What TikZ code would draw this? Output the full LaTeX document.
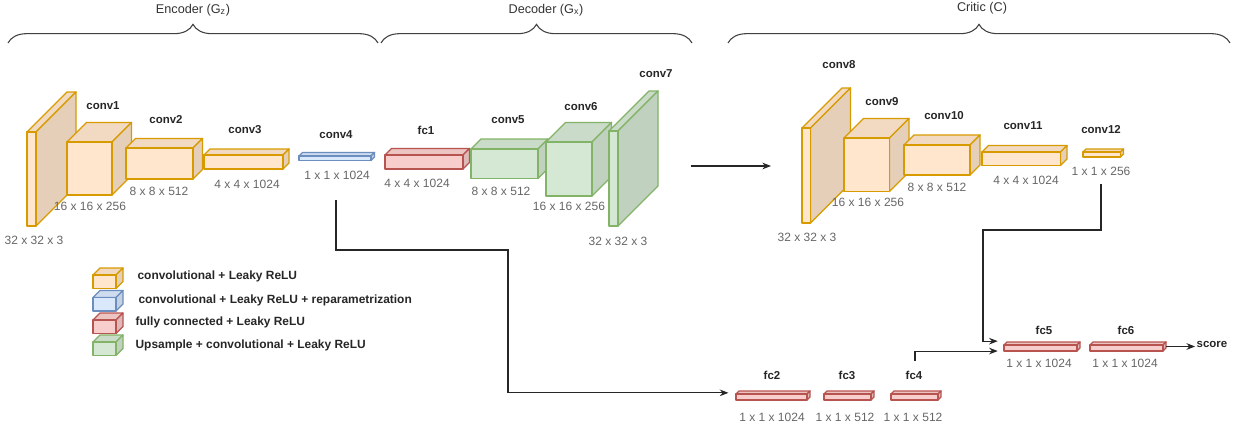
\documentclass[tikz,border=0pt]{standalone}
\usepackage{fontspec}
\setmainfont{Liberation Sans}
\usetikzlibrary{arrows.meta,fit,decorations.pathreplacing}
\definecolor{convfill}{HTML}{FFE6CC}
\definecolor{convline}{HTML}{D79B00}
\definecolor{reparfill}{HTML}{DAE8FC}
\definecolor{reparline}{HTML}{6C8EBF}
\definecolor{fcfill}{HTML}{F8CECC}
\definecolor{fcline}{HTML}{B85450}
\definecolor{upfill}{HTML}{D5E8D4}
\definecolor{upline}{HTML}{82B366}
\tikzset{
  block/.style={line width=1pt, line join=round},
  conn/.style={draw=black!85, line width=0.8pt, -{Stealth[length=6.5pt,width=5pt]}},
  lbl/.style={font=\fontsize{8.6}{10}\selectfont\bfseries, text=black!85, inner sep=1pt},
  dim/.style={font=\fontsize{9}{10}\selectfont, text=black!60, inner sep=1pt},
  title/.style={font=\fontsize{9.5}{11}\selectfont, text=black!80},
  legtext/.style={lbl, font=\fontsize{8.95}{10}\selectfont\bfseries, anchor=west},
  grp/.style={draw=black!75, line width=0.8pt, decorate, decoration={brace, amplitude=14pt}},
}
% name, x, y (front top left), width, height, depth, colour
\newcommand{\cuboid}[7]{%
  \filldraw[block, draw=#7line, fill=#7fill!95!black] (#2,#3) -- ++(#6,-#6) -- ++(#4,0) -- ++(-#6,#6) -- cycle;
  \filldraw[block, draw=#7line, fill=#7fill!90!black] (#2+#4,#3) -- ++(#6,-#6) -- ++(0,#5) -- ++(-#6,#6) -- cycle;
  \filldraw[block, draw=#7line, fill=#7fill] (#2,#3) rectangle ++(#4,#5);
  \node[fit={(#2,#3-#6) (#2+#4+#6,#3+#5)}, inner sep=0pt] (#1) {};
}

\begin{document}
\begin{tikzpicture}[x=0.75pt,y=-0.75pt]
  \useasboundingbox (0,0) rectangle (1239,425);

  \node[title] (t-enc) at (193,10) {Encoder (G\textsubscript{z})};
  \node[title] (t-dec) at (546,10) {Decoder (G\textsubscript{x})};
  \node[title] (t-cri) at (982,8) {Critic (C)};
  \draw[grp] (8,43) -- (378,43);
  \draw[grp] (381,43) -- (692,43);
  \draw[grp] (728,43) -- (1230,43);

  \cuboid{in1}{27}{132}{9}{94}{40}{conv}
  \cuboid{conv1}{67}{142}{45}{53}{19.5}{conv}
  \cuboid{conv2}{126}{148}{67}{31}{9.5}{conv}
  \cuboid{conv3}{204}{155}{79}{14}{6}{conv}
  \cuboid{conv4}{299}{156}{72}{4.5}{3.5}{repar}
  \cuboid{fc1}{385}{155}{78}{14}{6.5}{fc}
  \cuboid{conv5}{471}{149}{67}{29.5}{10}{up}
  \cuboid{conv6}{546}{142}{46}{54}{19.5}{up}
  \cuboid{conv7}{609}{131}{9}{95}{40}{up}

  \cuboid{conv8}{802}{128}{8.5}{95}{40}{conv}
  \cuboid{conv9}{844}{138}{45.5}{53.5}{19.5}{conv}
  \cuboid{conv10}{904}{145}{66}{30}{10}{conv}
  \cuboid{conv11}{982}{152}{78.5}{13.5}{6.5}{conv}
  \cuboid{conv12}{1083}{152}{37.5}{5}{3}{conv}

  \cuboid{fc2}{736}{394}{71}{6}{3}{fc}
  \cuboid{fc3}{824}{394}{47}{6}{3}{fc}
  \cuboid{fc4}{891}{394}{47}{6}{3}{fc}
  \cuboid{fc5}{1004}{345}{73}{6}{3}{fc}
  \cuboid{fc6}{1090}{345}{73}{6}{3}{fc}

  \node[lbl] (l-conv1) at (103,106) {conv1};
  \node[lbl] (l-conv2) at (166,120) {conv2};
  \node[lbl] (l-conv3) at (245,130) {conv3};
  \node[lbl] (l-conv4) at (336,135) {conv4};
  \node[lbl] (l-fc1) at (426,130) {fc1};
  \node[lbl] (l-conv5) at (508,120) {conv5};
  \node[lbl] (l-conv6) at (581,107) {conv6};
  \node[lbl] (l-conv7) at (656,74) {conv7};
  \node[lbl] (l-conv8) at (839,65) {conv8};
  \node[lbl] (l-conv9) at (882,102) {conv9};
  \node[lbl] (l-conv10) at (944,116) {conv10};
  \node[lbl] (l-conv11) at (1023,126) {conv11};
  \node[lbl] (l-conv12) at (1101,130) {conv12};
  \node[lbl] (l-fc2) at (772,375) {fc2};
  \node[lbl] (l-fc3) at (847,375) {fc3};
  \node[lbl] (l-fc4) at (914,375) {fc4};
  \node[lbl] (l-fc5) at (1044,330) {fc5};
  \node[lbl] (l-fc6) at (1126,330) {fc6};
  \node[lbl] (score) at (1212,344) {score};

  \node[dim] (d-in1) at (34,240) {32 x 32 x 3};
  \node[dim] (d-conv1) at (90,206) {16 x 16 x 256};
  \node[dim] (d-conv2) at (159,191) {8 x 8 x 512};
  \node[dim] (d-conv3) at (247,184) {4 x 4 x 1024};
  \node[dim] (d-conv4) at (337,175) {1 x 1 x 1024};
  \node[dim] (d-fc1) at (417,183) {4 x 4 x 1024};
  \node[dim] (d-conv5) at (501,191) {8 x 8 x 512};
  \node[dim] (d-conv6) at (569,206) {16 x 16 x 256};
  \node[dim] (d-conv7) at (618,241) {32 x 32 x 3};
  \node[dim] (d-conv8) at (807,237) {32 x 32 x 3};
  \node[dim] (d-conv9) at (868,202) {16 x 16 x 256};
  \node[dim] (d-conv10) at (937,187) {8 x 8 x 512};
  \node[dim] (d-conv11) at (1026,180) {4 x 4 x 1024};
  \node[dim] (d-conv12) at (1101,171) {1 x 1 x 256};
  \node[dim] (d-fc2) at (772,417) {1 x 1 x 1024};
  \node[dim] (d-fc3) at (845,417) {1 x 1 x 512};
  \node[dim] (d-fc4) at (913,417) {1 x 1 x 512};
  \node[dim] (d-fc5) at (1039,363) {1 x 1 x 1024};
  \node[dim] (d-fc6) at (1125,363) {1 x 1 x 1024};

  % legend
  \cuboid{k-conv}{93}{275}{23}{13.5}{7}{conv}
  \cuboid{k-repar}{93}{297.5}{23}{13.5}{7}{repar}
  \cuboid{k-fc}{93}{320}{23}{13.5}{7}{fc}
  \cuboid{k-up}{93}{342}{23}{13.5}{7}{up}
  \node[legtext] (g-conv) at (136,276) {convolutional + Leaky ReLU};
  \node[legtext] (g-repar) at (137,300.5) {convolutional + Leaky ReLU + reparametrization};
  \node[legtext] (g-fc) at (134,322) {fully connected + Leaky ReLU};
  \node[legtext] (g-up) at (134,345) {Upsample + convolutional + Leaky ReLU};

  \coordinate (gxout) at (691,166);
  \coordinate (cin) at (771,166);
  \coordinate (zout) at (336,200);
  \coordinate (zbend) at (508,250);
  \coordinate (cout) at (1101,184);
  \coordinate (cbend) at (983,230);
  \coordinate (fc4out) at (915,361);

  \draw[conn] (gxout) -- (cin);
  \draw[conn, shorten >=5.5pt] (zout) |- (zbend) |- ([yshift=2pt]fc2.west);
  \draw[conn, shorten >=4.5pt] (cout) |- (cbend) |- ([yshift=4pt]fc5.west);
  \draw[conn, shorten >=4.5pt] (fc4out) |- ([yshift=-3.4pt]fc5.west);
  \draw[conn] (fc6.east) -- (fc6.east -| score.west);
\end{tikzpicture}
\end{document}
